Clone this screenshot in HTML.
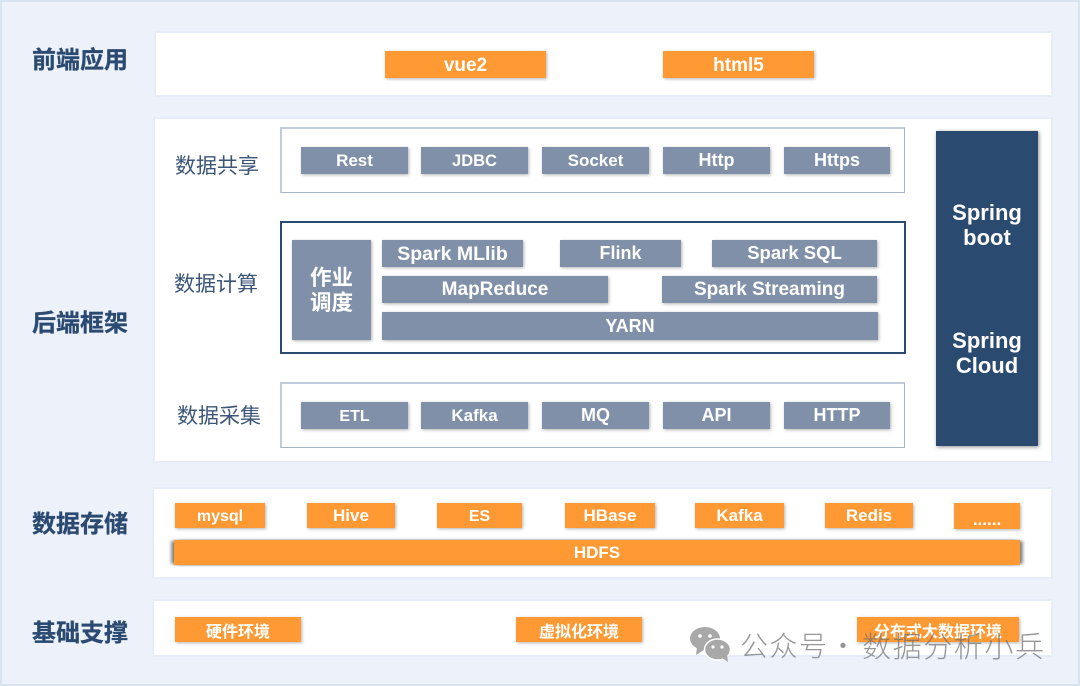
<!DOCTYPE html>
<html lang="zh"><head><meta charset="utf-8"><style>
html,body{margin:0;padding:0}
body{width:1080px;height:686px;overflow:hidden;position:relative;background:#edf2fa;font-family:"Liberation Sans","Noto Sans CJK SC",sans-serif}
div,svg{position:absolute;box-sizing:border-box}
.frame{left:0;top:0;width:1080px;height:686px;border:2px solid #d8e3f0;background:#edf2fa}
.panel{background:#fff;border:2px solid #e6edf9}
.t{color:#2b4a72;font-weight:700;font-size:24px;line-height:32px;left:20px;width:120px;text-align:center;font-family:"Noto Sans CJK SC",sans-serif;-webkit-text-stroke:.3px #2b4a72}
.s{color:#3c5678;font-size:21px;line-height:30px;width:120px;text-align:center;font-family:"Noto Sans CJK SC",sans-serif}
.box{text-align:center;color:#fff;font-weight:700;font-size:18px;box-shadow:1px 1px 3px rgba(0,0,0,.3);display:flex;align-items:center;justify-content:center;white-space:nowrap}
.g{background:#7f90a8;height:27px}
.o{background:#ff9933}
.tall{height:27px;font-size:19px;padding-top:2px}
.sm{font-size:17px;height:25px}
.c{font-family:"Noto Sans CJK SC",sans-serif;font-size:16px}
.b1{border:1px solid #a5b5cc;border-top:2px solid #c0ccdc;border-left:2px solid #c0ccdc;background:#fff}
.w{color:rgba(110,110,110,.72);line-height:40px;white-space:nowrap;font-family:"Noto Sans CJK SC",sans-serif;font-weight:300;top:625px;height:40px}
</style></head><body>
<div class="frame"></div>

<div class="panel" style="left:154px;top:31px;width:899px;height:66px"></div>
<div class="panel" style="left:153px;top:117px;width:900px;height:346px"></div>
<div class="panel" style="left:152px;top:487px;width:901px;height:92px"></div>
<div class="panel" style="left:152px;top:599px;width:901px;height:58px"></div>

<div class="t" style="top:42px">前端应用</div>
<div class="t" style="top:305px">后端框架</div>
<div class="t" style="top:506px">数据存储</div>
<div class="t" style="top:615px">基础支撑</div>

<div class="box o tall" style="left:385px;top:51px;width:161px">vue2</div>
<div class="box o tall" style="left:663px;top:51px;width:151px">html5</div>

<div class="s" style="left:157px;top:150px">数据共享</div>
<div class="s" style="left:156px;top:268px">数据计算</div>
<div class="s" style="left:159px;top:400px">数据采集</div>

<div class="b1" style="left:280px;top:127px;width:625px;height:66px"></div>
<div class="box g" style="left:301px;top:147px;width:107px;font-size:17px">Rest</div>
<div class="box g" style="left:421px;top:147px;width:107px;font-size:16.5px;padding-top:2px">JDBC</div>
<div class="box g" style="left:542px;top:147px;width:107px;font-size:17px">Socket</div>
<div class="box g" style="left:663px;top:147px;width:107px">Http</div>
<div class="box g" style="left:784px;top:147px;width:106px">Https</div>

<div style="left:280px;top:221px;width:626px;height:133px;border:2px solid #2a4a70;background:#fff"></div>
<div class="box g" style="left:292px;top:240px;width:79px;height:100px;font-size:21.5px;line-height:25px;padding-bottom:3px;font-family:'Noto Sans CJK SC',sans-serif">作业<br>调度</div>
<div class="box g" style="left:382px;top:240px;width:141px;font-size:19.5px;padding-top:1px">Spark MLlib</div>
<div class="box g" style="left:560px;top:240px;width:121px">Flink</div>
<div class="box g" style="left:712px;top:240px;width:165px;font-size:18.5px;padding-bottom:2px">Spark SQL</div>
<div class="box g" style="left:382px;top:276px;width:226px;font-size:19px">MapReduce</div>
<div class="box g" style="left:662px;top:276px;width:215px;font-size:19px">Spark Streaming</div>
<div class="box g" style="left:382px;top:312px;width:496px;height:28px">YARN</div>

<div class="b1" style="left:280px;top:382px;width:625px;height:66px"></div>
<div class="box g" style="left:301px;top:402px;width:107px;font-size:16px;padding-top:2px">ETL</div>
<div class="box g" style="left:421px;top:402px;width:107px;font-size:17px">Kafka</div>
<div class="box g" style="left:542px;top:402px;width:107px">MQ</div>
<div class="box g" style="left:663px;top:402px;width:107px">API</div>
<div class="box g" style="left:784px;top:402px;width:106px">HTTP</div>

<div style="left:936px;top:131px;width:102px;height:315px;background:#2a4a70;box-shadow:1px 1px 4px rgba(0,0,0,.45)"></div>
<div style="left:936px;top:200px;width:102px;text-align:center;color:#fff;font-weight:700;font-size:22px;line-height:25px">Spring<br>boot</div>
<div style="left:936px;top:328px;width:102px;text-align:center;color:#fff;font-weight:700;font-size:22px;line-height:25px">Spring<br>Cloud</div>

<div class="box o sm" style="left:175px;top:503px;width:90px;font-size:16px;padding-top:2px">mysql</div>
<div class="box o sm" style="left:307px;top:503px;width:88px">Hive</div>
<div class="box o sm" style="left:437px;top:503px;width:85px;font-size:16px;padding-top:2px">ES</div>
<div class="box o sm" style="left:565px;top:503px;width:90px">HBase</div>
<div class="box o sm" style="left:695px;top:503px;width:89px">Kafka</div>
<div class="box o sm" style="left:825px;top:503px;width:88px">Redis</div>
<div class="box o sm" style="left:954px;top:503px;width:66px;height:26px;padding-top:8px">......</div>
<div class="box o" style="left:174px;top:540px;width:846px;height:25px;font-size:17px;box-shadow:0 0 2px rgba(0,0,0,.2),4px 0 3px -1px rgba(0,0,0,.45),-4px 0 3px -1px rgba(0,0,0,.45)">HDFS</div>

<div class="box o c" style="left:175px;top:617px;width:126px;height:25px">硬件环境</div>
<div class="box o c" style="left:516px;top:617px;width:126px;height:25px">虚拟化环境</div>
<div class="box o c" style="left:857px;top:617px;width:162px;height:25px">分布式大数据环境</div>

<svg style="left:690px;top:626px" width="42" height="36" viewBox="0 0 42 36">
<ellipse cx="15" cy="12.5" rx="15" ry="11.5" fill="#a8a8a8"/><path d="M7 21l-1 8 8-5z" fill="#a8a8a8"/>
<circle cx="10" cy="10" r="1.8" fill="#fff"/><circle cx="20" cy="10" r="1.8" fill="#fff"/>
<ellipse cx="27.5" cy="23.5" rx="13" ry="10.5" fill="#a8a8a8" stroke="#fff" stroke-width="1.5"/><path d="M32 32l6 4-1-8z" fill="#a8a8a8"/>
<circle cx="23" cy="21" r="1.6" fill="#fff"/><circle cx="32" cy="21" r="1.6" fill="#fff"/>
</svg>
<div class="w" style="left:740px;font-size:28px;letter-spacing:1.5px">公众号</div>
<div class="w" style="left:829px;font-size:28px">·</div>
<div class="w" style="left:862px;font-size:29px;letter-spacing:1.6px">数据分析小兵</div>
</body></html>
